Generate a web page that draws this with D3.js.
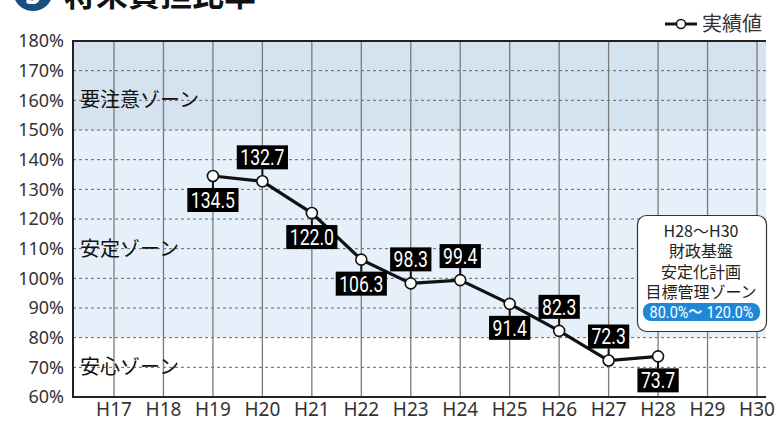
<!DOCTYPE html>
<head>
    <meta charset="utf-8">
    <title>将来負担比率</title>
    <style>
        html, body {
            margin: 0;
            width: 100%;
            height: 100%;
            background: #fff;
        }
        text {
            font-family: "Noto Sans", "Noto Sans CJK JP", sans-serif;
        }
        .jp {
            font-family: "Noto Sans CJK JP", sans-serif;
        }
        .val {
            font-family: Roboto, "Noto Sans", sans-serif;
        }
    </style>
</head>
<body>
<script src="https://cdn.jsdelivr.net/npm/d3@7"></script>
<script>

    const years = ["H17", "H18", "H19", "H20", "H21", "H22", "H23", "H24", "H25", "H26", "H27", "H28", "H29", "H30"];
    const resultYears = ["H19", "H20", "H21", "H22", "H23", "H24", "H25", "H26", "H27", "H28"];
    const resultValues = [134.5, 132.7, 122.0, 106.3, 98.3, 99.4, 91.4, 82.3, 72.3, 73.7];
    // label above (1) or below (-1) the point
    const labelSide = [-1, 1, -1, -1, 1, 1, -1, 1, 1, -1];
    const yTicks = [60, 70, 80, 90, 100, 110, 120, 130, 140, 150, 160, 170, 180];
    const zones = [
        {name: "要注意ゾーン", from: 150, to: 180, label: 160, color: "#d5e2ef"},
        {name: "安定ゾーン", from: 80, to: 150, label: 110, color: "#e5f0fb"},
        {name: "安心ゾーン", from: 60, to: 80, label: 70, color: "#ffffff"}
    ];
    const noteLines = ["H28〜H30", "財政基盤", "安定化計画", "目標管理ゾーン"];
    const noteRange = "80.0%〜 120.0%";

    const width = 782, height = 421;
    const plotLeft = 73, plotRight = 766, plotTop = 41, plotBottom = 397;

    const svg = d3.select("body").append("svg")
        .attr("width", width)
        .attr("height", height);

    const x = d3.scalePoint().domain(years).range([114, 757]);
    const y = d3.scaleLinear().domain([60, 180]).range([plotBottom, plotTop]);

    // title (cut off at top of picture)
    svg.append("circle")
        .attr("cx", 33).attr("cy", -9).attr("r", 20)
        .attr("fill", "#1c4f80");
    svg.append("text")
        .attr("x", 33).attr("y", 4)
        .attr("text-anchor", "middle")
        .attr("fill", "#fff")
        .attr("font-size", 28)
        .attr("font-weight", "bold")
        .text("5");
    svg.append("text")
        .attr("class", "jp")
        .attr("x", 64).attr("y", 6)
        .attr("font-size", 32)
        .attr("font-weight", "bold")
        .attr("fill", "#111")
        .text("将来負担比率");

    // zone backgrounds
    svg.append("g").selectAll("rect")
        .data(zones)
        .enter().append("rect")
        .attr("x", plotLeft)
        .attr("y", d => y(d.to))
        .attr("width", plotRight - plotLeft)
        .attr("height", d => y(d.from) - y(d.to))
        .attr("fill", d => d.color);

    // horizontal dashed grid
    svg.append("g").selectAll("line")
        .data(yTicks.filter(t => t > 60 && t < 180))
        .enter().append("line")
        .attr("x1", plotLeft).attr("x2", plotRight)
        .attr("y1", d => y(d)).attr("y2", d => y(d))
        .attr("stroke", "#666")
        .attr("stroke-width", 1)
        .attr("stroke-dasharray", "3,3");

    // vertical grid
    svg.append("g").selectAll("line")
        .data(years)
        .enter().append("line")
        .attr("x1", d => x(d)).attr("x2", d => x(d))
        .attr("y1", plotTop).attr("y2", plotBottom)
        .attr("stroke", "#7a7a7a")
        .attr("stroke-width", 1.3);

    // zone names
    svg.append("g").selectAll("text")
        .data(zones)
        .enter().append("text")
        .attr("class", "jp")
        .attr("x", 80)
        .attr("y", d => y(d.label))
        .attr("dy", "0.35em")
        .attr("font-size", 20)
        .attr("fill", "#111")
        .text(d => d.name);

    // frame
    svg.append("path")
        .attr("d", `M${plotRight},${plotTop}H${plotLeft}V${plotBottom}H${plotRight}`)
        .attr("fill", "none")
        .attr("stroke", "#222")
        .attr("stroke-width", 2);

    // y axis labels
    svg.append("g").selectAll("text")
        .data(yTicks)
        .enter().append("text")
        .attr("x", 64)
        .attr("y", d => y(d))
        .attr("dy", "0.36em")
        .attr("text-anchor", "end")
        .attr("font-size", 18)
        .attr("fill", "#333")
        .text(d => d + "%");

    // x axis labels
    svg.append("g").selectAll("text")
        .data(years)
        .enter().append("text")
        .attr("x", d => x(d))
        .attr("y", 416)
        .attr("text-anchor", "middle")
        .attr("font-size", 19)
        .attr("fill", "#333")
        .text(d => d);

    // annotation box
    const note = svg.append("g");
    note.append("rect")
        .attr("x", 637.5).attr("y", 215.5)
        .attr("width", 129).attr("height", 116)
        .attr("rx", 9)
        .attr("fill", "#fff")
        .attr("stroke", "#333")
        .attr("stroke-width", 1.2);
    note.append("text")
        .attr("class", "jp")
        .attr("text-anchor", "middle")
        .attr("font-size", 16)
        .attr("fill", "#222")
        .selectAll("tspan")
        .data(noteLines)
        .enter().append("tspan")
        .attr("x", 701)
        .attr("y", (d, i) => 231 + i * 20.4)
        .attr("dy", "0.36em")
        .text(d => d);
    note.append("rect")
        .attr("x", 643).attr("y", 303)
        .attr("width", 117).attr("height", 18)
        .attr("rx", 8)
        .attr("fill", "#1e88d8");
    note.append("text")
        .attr("class", "val")
        .attr("transform", "translate(701.5,312) scale(0.85,1)")
        .attr("dy", "0.36em")
        .attr("text-anchor", "middle")
        .attr("font-size", 17)
        .attr("fill", "#fff")
        .text(noteRange);

    // result line
    const points = resultYears.map((yr, i) => ({year: yr, value: resultValues[i], side: labelSide[i]}));

    svg.append("path")
        .datum(points)
        .attr("d", d3.line().x(d => x(d.year)).y(d => y(d.value)))
        .attr("fill", "none")
        .attr("stroke", "#111")
        .attr("stroke-width", 3.2);

    // value labels
    const gap = 12, boxH = 24, squeeze = 0.8;
    const labelY = d => d.side > 0 ? y(d.value) - gap - boxH / 2 : y(d.value) + gap + boxH / 2;
    const labels = svg.append("g").selectAll("g")
        .data(points)
        .enter().append("g");
    labels.append("line")
        .attr("x1", d => x(d.year)).attr("x2", d => x(d.year))
        .attr("y1", d => y(d.value))
        .attr("y2", d => y(d.value) - d.side * gap)
        .attr("stroke", "#111")
        .attr("stroke-width", 2);
    labels.append("rect").attr("fill", "#000");
    labels.append("text")
        .attr("class", "val")
        .attr("transform", d => `translate(${x(d.year)},${labelY(d)}) scale(${squeeze},1)`)
        .attr("dy", "0.36em")
        .attr("text-anchor", "middle")
        .attr("font-size", 22)
        .attr("fill", "#fff")
        .text(d => d.value.toFixed(1));
    labels.each(function (d) {
        const g = d3.select(this);
        const w = g.select("text").node().getComputedTextLength() * squeeze + 7;
        g.select("rect")
            .attr("x", x(d.year) - w / 2)
            .attr("y", labelY(d) - boxH / 2)
            .attr("width", w)
            .attr("height", boxH);
    });

    svg.append("g").selectAll("circle")
        .data(points)
        .enter().append("circle")
        .attr("cx", d => x(d.year))
        .attr("cy", d => y(d.value))
        .attr("r", 5.5)
        .attr("fill", "#fff")
        .attr("stroke", "#111")
        .attr("stroke-width", 1.6);

    // legend
    const legend = svg.append("g");
    legend.append("line")
        .attr("x1", 665).attr("x2", 697)
        .attr("y1", 24).attr("y2", 24)
        .attr("stroke", "#111")
        .attr("stroke-width", 3);
    legend.append("circle")
        .attr("cx", 681).attr("cy", 24).attr("r", 4.5)
        .attr("fill", "#fff")
        .attr("stroke", "#111")
        .attr("stroke-width", 1.5);
    legend.append("text")
        .attr("class", "jp")
        .attr("x", 702).attr("y", 24)
        .attr("dy", "0.35em")
        .attr("font-size", 20)
        .attr("fill", "#333")
        .text("実績値");

</script>
</body>
